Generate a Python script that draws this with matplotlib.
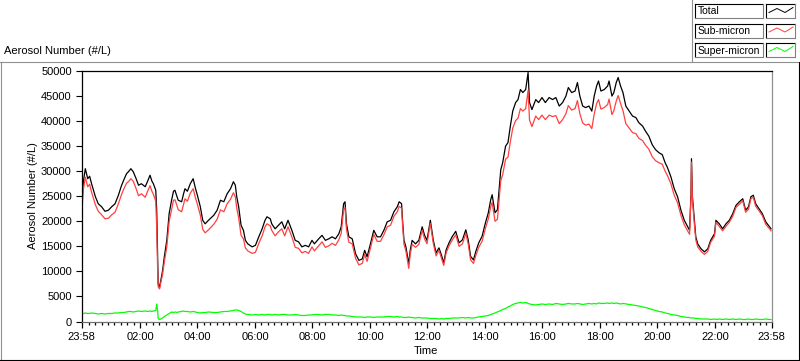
import numpy as np
import matplotlib
matplotlib.use("Agg")
import matplotlib.pyplot as plt
from matplotlib.lines import Line2D
from matplotlib.patches import Rectangle
from matplotlib.ticker import FixedLocator

plt.rcParams['font.family'] = ['Liberation Sans', 'DejaVu Sans']
plt.rcParams['font.size'] = 8

# minutes since 23:58 (start of the record)
minutes = [
    1, 4, 8, 13, 17, 21, 29, 35, 42, 49,
    56, 63, 70, 77, 83, 88, 94, 98, 103, 108,
    114, 119, 125, 133, 138, 143, 147, 150, 155, 157,
    159, 160, 163, 166, 169, 173, 178, 183, 188, 192,
    195, 199, 202, 209, 213, 216, 221, 227, 233, 238,
    241, 248, 253, 258, 265, 276, 283, 290, 297, 304,
    311, 317, 321, 324, 328, 333, 338, 342, 347, 356,
    363, 370, 377, 383, 387, 394, 397, 404, 411, 418,
    424, 431, 439, 446, 453, 460, 467, 474, 481, 486,
    495, 502, 509, 516, 523, 530, 537, 542, 547, 550,
    553, 558, 565, 572, 579, 586, 591, 596, 603, 610,
    617, 624, 631, 638, 645, 652, 659, 663, 668, 670,
    673, 677, 683, 686, 690, 697, 704, 711, 716, 721,
    728, 734, 740, 746, 752, 756, 761, 767, 774, 781,
    788, 795, 802, 807, 812, 818, 823, 829, 836, 843,
    849, 854, 857, 863, 868, 871, 875, 879, 885, 890,
    895, 900, 906, 911, 916, 921, 927, 930, 932, 935,
    940, 948, 954, 961, 968, 976, 983, 990, 997, 1004,
    1011, 1016, 1023, 1030, 1035, 1040, 1046, 1052, 1059, 1065,
    1070, 1075, 1079, 1084, 1091, 1098, 1101, 1107, 1111, 1116,
    1120, 1125, 1130, 1136, 1143, 1150, 1157, 1163, 1171, 1177,
    1184, 1191, 1198, 1205, 1212, 1218, 1223, 1230, 1237, 1244,
    1251, 1258, 1265, 1269, 1272, 1273, 1275, 1279, 1282, 1286,
    1293, 1300, 1307, 1313, 1321, 1324, 1331, 1338, 1345, 1352,
    1359, 1366, 1373, 1380, 1386, 1392, 1397, 1402, 1407, 1414,
    1421, 1428, 1435, 1439,
]

total = [
    23900, 28000, 30500, 28500, 29000, 27500, 24900, 23500, 22900, 22000,
    22200, 22900, 23500, 25200, 27000, 28200, 29500, 29900, 30500, 29900,
    28500, 27200, 27500, 26900, 28000, 29200, 28000, 27500, 26200, 22000,
    12000, 7500, 6900, 8500, 10000, 13000, 16200, 21600, 24200, 26000,
    26200, 25000, 24200, 23900, 25500, 26500, 26000, 27500, 28500, 26500,
    25500, 22900, 20200, 19500, 20200, 21200, 22200, 24200, 23900, 25500,
    26500, 27900, 27200, 24900, 22900, 19200, 18200, 16200, 15500, 14900,
    15200, 16900, 18500, 20200, 20900, 20500, 19500, 18500, 19200, 19900,
    18500, 20200, 18200, 16200, 15900, 14900, 15200, 14900, 16200, 15500,
    16500, 17200, 16200, 16500, 16900, 16500, 17500, 18900, 23500, 23900,
    19500, 16900, 16500, 13500, 12200, 12500, 14200, 12900, 15500, 18200,
    16900, 16900, 18200, 19900, 20200, 21900, 22900, 23900, 23500, 20200,
    16200, 14900, 11500, 14200, 16200, 15500, 16200, 18900, 17200, 16200,
    20200, 16300, 13700, 14700, 13000, 11700, 14300, 15700, 17000, 18000,
    15700, 16300, 18300, 16300, 13000, 12300, 14000, 15700, 17000, 19700,
    21700, 24300, 25300, 21700, 22300, 25700, 30300, 31700, 35000, 35700,
    39000, 42000, 43700, 44300, 46300, 45700, 46300, 48300, 49700, 43700,
    42300, 44300, 43700, 44700, 43700, 44700, 44300, 44700, 43000, 43700,
    45000, 46700, 45700, 46000, 47700, 45000, 43000, 42700, 43000, 42000,
    45000, 47000, 48000, 46000, 46300, 47000, 48000, 45000, 45700, 47700,
    48700, 47000, 45700, 43000, 42000, 41000, 40700, 39700, 39000, 38000,
    37000, 35300, 34300, 33700, 33300, 31700, 30700, 28900, 26500, 24900,
    22200, 20200, 18900, 18200, 25500, 32500, 24900, 20200, 16900, 15500,
    14500, 13900, 14500, 16200, 17500, 20200, 19500, 18500, 19500, 20200,
    21500, 23200, 23900, 24500, 22200, 22900, 24900, 25200, 23500, 22500,
    21500, 19900, 19000, 18500,
]

super_micron = [
    1500, 1600, 1700, 1600, 1600, 1700, 1600, 1500, 1600, 1500,
    1600, 1600, 1700, 1700, 1800, 1800, 1900, 2000, 2000, 1900,
    2000, 2100, 2000, 2100, 2000, 2100, 2000, 2100, 2200, 3500,
    2000, 600, 400, 500, 700, 1000, 1300, 1600, 1900, 1800,
    1900, 1800, 1900, 2000, 2100, 2000, 2000, 1900, 2000, 1900,
    1800, 1700, 1800, 1800, 1900, 1800, 1800, 1900, 2000, 2000,
    2100, 2200, 2300, 2300, 2200, 2000, 1700, 1500, 1400, 1300,
    1400, 1300, 1400, 1300, 1400, 1400, 1300, 1400, 1300, 1400,
    1400, 1300, 1300, 1400, 1300, 1200, 1200, 1300, 1300, 1400,
    1400, 1300, 1400, 1400, 1300, 1300, 1200, 1300, 1200, 1200,
    1100, 1100, 1000, 900, 900, 900, 800, 900, 900, 800,
    900, 900, 900, 1000, 1000, 900, 1000, 900, 900, 800,
    800, 800, 900, 800, 800, 700, 800, 700, 700, 700,
    600, 600, 600, 500, 600, 500, 600, 600, 700, 700,
    700, 800, 700, 800, 700, 700, 800, 900, 1000, 1100,
    1200, 1400, 1500, 1700, 1900, 2000, 2200, 2400, 2600, 2900,
    3100, 3400, 3600, 3700, 3800, 3700, 3800, 3700, 3600, 3500,
    3400, 3300, 3400, 3500, 3400, 3500, 3400, 3600, 3500, 3400,
    3500, 3600, 3500, 3500, 3600, 3500, 3400, 3500, 3600, 3500,
    3600, 3500, 3700, 3600, 3600, 3700, 3600, 3700, 3600, 3700,
    3600, 3500, 3600, 3500, 3400, 3300, 3200, 3100, 2900, 2800,
    2600, 2400, 2200, 2000, 1900, 1700, 1600, 1400, 1300, 1200,
    1000, 900, 800, 800, 700, 700, 700, 700, 600, 600,
    500, 500, 500, 400, 500, 400, 500, 400, 500, 400,
    500, 400, 500, 400, 400, 500, 400, 400, 500, 400,
    400, 500, 400, 400,
]

tick_minutes = [0, 122, 242, 362, 482, 602, 722, 842, 962, 1082, 1202, 1322, 1440]
tick_labels = ["23:58", "02:00", "04:00", "06:00", "08:00", "10:00", "12:00",
               "14:00", "16:00", "18:00", "20:00", "22:00", "23:58"]
y_ticks = list(range(0, 50001, 5000))

series_names = ["Total", "Sub-micron", "Super-micron"]
series_colors = ["#000000", "#ff4040", "#00ff00"]

t = np.array(minutes)
tot = np.array(total)
sup = np.array(super_micron)
sub = tot - sup

W, H = 800, 361
fig = plt.figure(figsize=(W / 100, H / 100), dpi=100)


def fx(x):
    return x / W


def fy(y):
    return 1 - y / H


ax = fig.add_axes([fx(81.5), fy(321.5), (771.5 - 81.5) / W, (321.5 - 71) / H])

ax.plot(t, tot, color=series_colors[0], lw=0.9)
ax.plot(t, sub, color=series_colors[1], lw=0.9)
ax.plot(t, sup, color=series_colors[2], lw=0.9)

ax.set_xlim(0, 1440)
ax.set_ylim(0, 50000)
ax.set_xticks(tick_minutes)
ax.set_xticklabels(tick_labels)
ax.set_yticks(y_ticks)

minor = []
for k in range(-10, 120):
    m = 122 + k * 120 / 9
    if 5 < m < 1435 and all(abs(m - mt) > 3 for mt in tick_minutes):
        minor.append(m)
ax.xaxis.set_minor_locator(FixedLocator(minor))

ax.tick_params(axis='y', direction='out', length=4, width=0.8, pad=3, labelsize=8)
ax.tick_params(axis='x', which='major', direction='out', length=4.5, width=0.9, pad=3, labelsize=8)
ax.tick_params(axis='x', which='minor', direction='out', length=2, width=0.9)

ax.spines['left'].set_color('black')
ax.spines['top'].set_color('black')
ax.spines['bottom'].set_color('#707070')
ax.spines['right'].set_color('#909090')
for s in ax.spines.values():
    s.set_linewidth(0.9)

fig.text(fx(4), fy(51), "Aerosol Number (#/L)", ha='left', va='center', fontsize=8)
fig.text(fx(33), fy(196), "Aerosol Number (#/L)", rotation=90, ha='center', va='center', fontsize=8)
fig.text(fx(426), fy(351), "Time", ha='center', va='center', fontsize=8)


def hline(x0, x1, y, color):
    fig.add_artist(Line2D([fx(x0), fx(x1)], [fy(y), fy(y)], color=color, lw=0.8))


def vline(x, y0, y1, color):
    fig.add_artist(Line2D([fx(x), fx(x)], [fy(y0), fy(y1)], color=color, lw=0.8))


# panel frame
hline(0, 798, 61.5, '#909090')
vline(691.5, 0, 61.5, '#909090')
vline(0.5, 61.5, 360, '#909090')
vline(798.5, 61.5, 360, 'black')
hline(0, 799, 359.5, 'black')


def box(x0, y0, x1, y1):
    fig.add_artist(Rectangle((fx(x0), fy(y1)), (x1 - x0) / W, (y1 - y0) / H,
                             facecolor='white', edgecolor='none'))
    hline(x0, x1, y0, 'black')
    vline(x0, y0, y1, 'black')
    hline(x0, x1, y1, '#808080')
    vline(x1, y0, y1, '#808080')


row_tops = [4, 23.5, 43]
for name, color, top in zip(series_names, series_colors, row_tops):
    box(695, top, 763, top + 14)
    fig.text(fx(697.5), fy(top + 7.5), name, ha='left', va='center', fontsize=7.5)
    box(766, top, 795, top + 14)
    zx = [769, 777, 785, 793]
    zy = [top + 8.5, top + 4.5, top + 8.5, top + 3.5]
    fig.add_artist(Line2D([fx(v) for v in zx], [fy(v) for v in zy], color=color, lw=0.7))

fig.savefig("out.png", dpi=100)
